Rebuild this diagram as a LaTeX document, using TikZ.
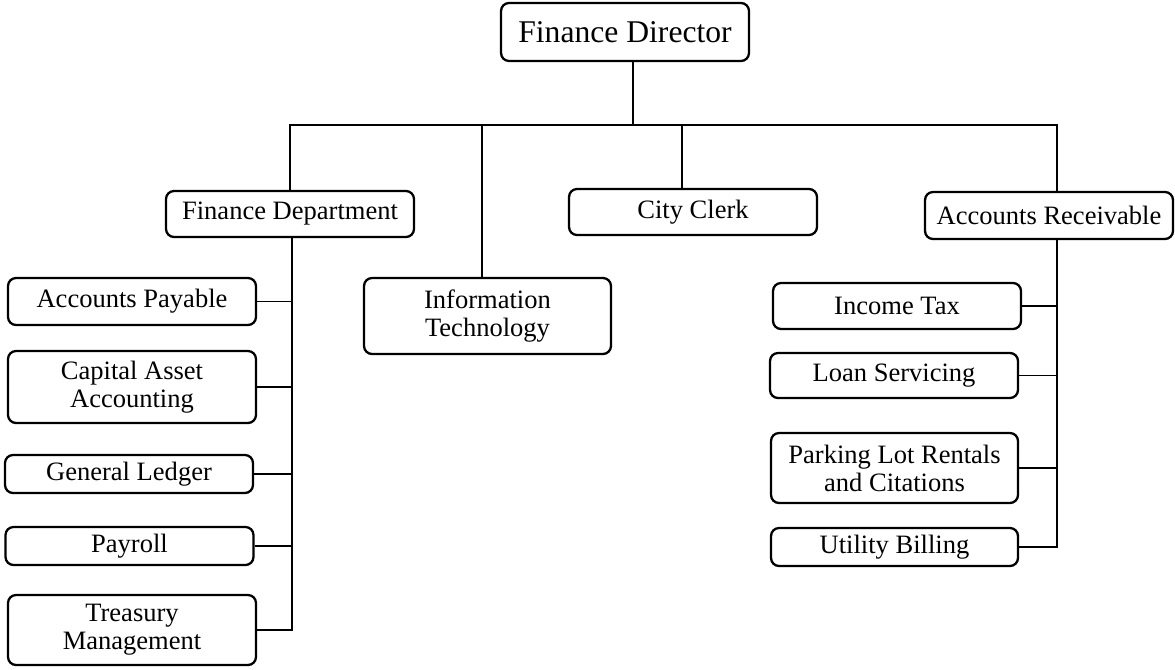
\documentclass[tikz,border=0pt]{standalone}
\usepackage{fontspec}
\setmainfont{Liberation Serif}
\usepackage{tikz}

\begin{document}
\begin{tikzpicture}[x=0.02cm,y=-0.02cm,
  box/.style={draw,line width=1.3pt,rounded corners=0.16cm,align=center,inner sep=0pt,
    minimum width=4.96cm,font=\fontsize{15.1}{16}\selectfont},
  link/.style={line width=0.7pt}]
\useasboundingbox (0,0) rectangle (1175,669);
% top
\node (dir) at (625,32) [box,minimum height=1.16cm,font=\fontsize{18}{20}\selectfont]{Finance Director};
\node (fd) at (290,214) [box,minimum height=0.92cm]{Finance Department};
\node (cc) at (693,212) [box,minimum height=0.92cm]{City Clerk};
\node (ar) at (1049,215.5) [box,minimum height=0.94cm]{Accounts Receivable};
\node (it) at (487.5,316) [box,minimum width=4.94cm,minimum height=1.52cm]{Information\\Technology};
% finance department
\node (ap) at (132,301.5) [box,minimum height=0.94cm]{Accounts Payable};
\node (caa) at (132,387) [box,minimum height=1.44cm]{Capital Asset\\Accounting};
\node (gl) at (129,474) [box,minimum height=0.76cm]{General Ledger};
\node (pay) at (129.5,546) [box,minimum height=0.76cm]{Payroll};
\node (tm) at (132,630) [box,minimum height=1.4cm]{Treasury\\Management};
% accounts receivable
\node (itx) at (897,306) [box,minimum height=0.92cm]{Income Tax};
\node (ls) at (894,375.5) [box,minimum height=0.9cm]{Loan Servicing};
\node (pl) at (894.5,468) [box,minimum width=4.94cm,minimum height=1.4cm]{Parking Lot Rentals\\and Citations};
\node (ub) at (894.5,547) [box,minimum width=4.94cm,minimum height=0.76cm]{Utility Billing};
% connectors
\coordinate (bus) at (633,125);
\coordinate (dirB) at ([xshift=0.16cm]dir.south);
\coordinate (itT) at ([xshift=-0.11cm]it.north);
\coordinate (ccT) at ([xshift=-0.22cm]cc.north);
\coordinate (arT) at ([xshift=0.16cm]ar.north);
\coordinate (arB) at ([xshift=0.16cm]ar.south);
\coordinate (fdB) at ([xshift=0.04cm]fd.south);
\draw[link] (dirB) -- (dirB |- bus);
\draw[link] (fd.north) |- (arT |- bus) -- (arT);
\draw[link] (itT) -- (itT |- bus);
\draw[link] (ccT) -- (ccT |- bus);
\draw[link] (fdB) |- (tm.east);
\foreach \n in {ap,caa,gl,pay}
  \draw[link] (\n.east) -- (\n.east -| fdB);
\draw[link] (arB) |- (ub.east);
\foreach \n in {itx,ls,pl}
  \draw[link] (\n.east) -- (\n.east -| arB);
\end{tikzpicture}
\end{document}
